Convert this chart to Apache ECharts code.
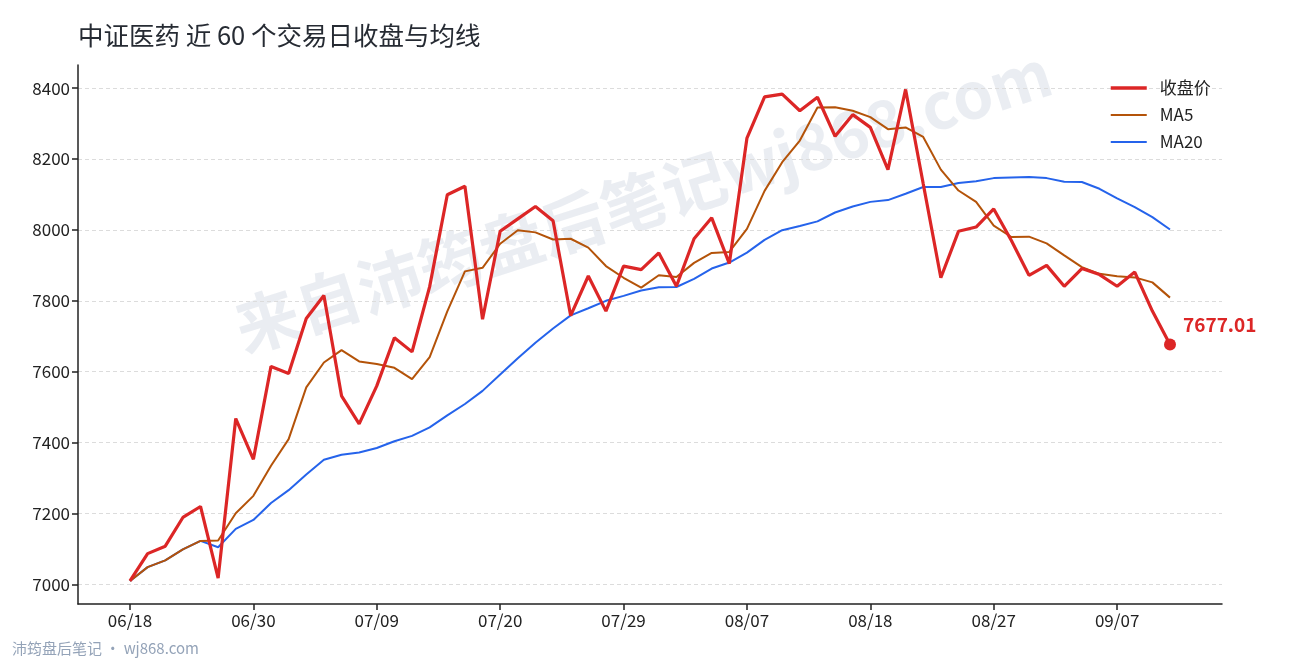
<!DOCTYPE html>
<html>
<head>
<meta charset="utf-8">
<title>中证医药 近 60 个交易日收盘与均线</title>
<script src="https://cdn.jsdelivr.net/npm/echarts@6/dist/echarts.min.js"></script>
<style>
    html, body { margin: 0; padding: 0; background: #fff; }
    #main { width: 1290px; height: 660px; }
</style>
</head>
<body>
<div id="main"></div>
<script>
// 交易日 (MM/DD)
var dates = [
    '06/18', '06/19', '06/20', '06/23', '06/24', '06/25', '06/26', '06/30',
    '07/01', '07/02', '07/03', '07/04', '07/07', '07/08', '07/09',
    '07/10', '07/11', '07/14', '07/15', '07/16', '07/17', '07/20',
    '07/21', '07/22', '07/23', '07/24', '07/25', '07/28', '07/29',
    '07/30', '07/31', '08/01', '08/04', '08/05', '08/06', '08/07',
    '08/08', '08/11', '08/12', '08/13', '08/14', '08/15', '08/18',
    '08/19', '08/20', '08/21', '08/22', '08/25', '08/26', '08/27',
    '08/28', '08/29', '09/01', '09/02', '09/03', '09/04', '09/07',
    '09/08', '09/09', '09/10'
];

// 收盘价
var closeData = [
    7010, 7087, 7108, 7189, 7220, 7018, 7468, 7353, 7615, 7595,
    7750, 7815, 7532, 7453, 7560, 7696, 7656, 7840, 8099, 8123,
    7748, 7996, 8031, 8066, 8026, 7758, 7870, 7771, 7898, 7888,
    7935, 7841, 7975, 8034, 7905, 8259, 8375, 8383, 8336, 8374,
    8264, 8325, 8289, 8170, 8396, 8130, 7865, 7996, 8008, 8059,
    7970, 7872, 7900, 7841, 7891, 7874, 7841, 7881, 7771, 7677.01
];

// MA5
var ma5Data = [
    7010, 7049, 7068, 7099, 7123, 7124, 7201, 7250, 7335, 7410,
    7556, 7626, 7661, 7629, 7622, 7611, 7579, 7641, 7770, 7883,
    7893, 7961, 7999, 7993, 7973, 7975, 7950, 7898, 7865, 7837,
    7872, 7867, 7907, 7935, 7938, 8003, 8110, 8191, 8252, 8345,
    8346, 8336, 8318, 8284, 8289, 8262, 8170, 8111, 8079, 8012,
    7980, 7981, 7962, 7928, 7895, 7876, 7869, 7866, 7852, 7809
];

// MA20
var ma20Data = [
    7010, 7049, 7068, 7099, 7123, 7105, 7157, 7182, 7230, 7266,
    7310, 7352, 7366, 7372, 7385, 7404, 7419, 7443, 7477, 7509,
    7546, 7592, 7638, 7682, 7722, 7759, 7779, 7800, 7814, 7829,
    7838, 7839, 7862, 7891, 7908, 7936, 7972, 7999, 8011, 8024,
    8049, 8066, 8079, 8084, 8102, 8121, 8121, 8132, 8137, 8146,
    8148, 8149, 8146, 8136, 8135, 8116, 8089, 8064, 8036, 8001
];

// 坐标轴刻度
var xTickIdx = [0, 7, 14, 21, 28, 35, 42, 49, 56];
var yTicks = [7000, 7200, 7400, 7600, 7800, 8000, 8200, 8400];

var FONT = '"Noto Sans CJK SC", "Noto Sans", sans-serif';

var toPairs = function (arr) {
    return arr.map(function (v, i) { return [i, v]; });
};

var lastIdx = closeData.length - 1;

var myChart = echarts.init(document.getElementById('main'), null, { renderer: 'canvas' });

var option = {
    backgroundColor: '#fff',
    animation: false,
    textStyle: { fontFamily: FONT },
    title: {
        text: '中证医药 近 60 个交易日收盘与均线',
        left: 78,
        top: 23,
        padding: 0,
        textStyle: { fontFamily: FONT, fontSize: 25.5, fontWeight: 'normal', color: '#262b33' }
    },
    legend: {
        orient: 'vertical',
        left: 1109,
        top: 79,
        padding: 0,
        itemWidth: 36,
        itemHeight: 14,
        itemGap: 9,
        itemStyle: { opacity: 0 },
        textStyle: { fontFamily: FONT, fontSize: 17, lineHeight: 18, color: '#222', padding: [0, 0, 0, 8] },
        data: [
            { name: '收盘价', lineStyle: { width: 3.5 } },
            { name: 'MA5', lineStyle: { width: 2 } },
            { name: 'MA20', lineStyle: { width: 2 } }
        ]
    },
    grid: { left: 78, right: 68, top: 65, bottom: 56 },
    xAxis: {
        type: 'value',
        min: -2.95,
        max: lastIdx + 2.95,
        axisLine: { show: true, onZero: false, lineStyle: { color: '#222', width: 1.5 } },
        axisTick: { show: true, inside: false, length: 6, lineStyle: { color: '#222', width: 1.5 }, customValues: xTickIdx },
        axisLabel: {
            customValues: xTickIdx,
            margin: 8,
            fontSize: 17,
            color: '#222',
            fontFamily: FONT,
            formatter: function (v) { return dates[Math.round(v)] || ''; }
        },
        splitLine: { show: false }
    },
    yAxis: {
        type: 'value',
        min: 6945,
        max: 8465,
        axisLine: { show: true, onZero: false, lineStyle: { color: '#222', width: 1.5 } },
        axisTick: { show: true, inside: false, length: 6, lineStyle: { color: '#222', width: 1.5 }, customValues: yTicks },
        axisLabel: {
            customValues: yTicks,
            margin: 8,
            fontSize: 17,
            color: '#222',
            fontFamily: FONT,
            formatter: function (v) { return String(v); }
        },
        splitLine: { show: true, lineStyle: { color: '#dcdcdc', type: [4, 3], width: 1 } }
    },
    graphic: [
        {
            type: 'text',
            x: 643,
            y: 200,
            rotation: 0.31,
            z: -10,
            silent: true,
            style: {
                text: '来自沛筠盘后笔记wj868.com',
                font: 'bold 64px ' + FONT,
                fill: 'rgba(190,198,215,0.32)',
                textAlign: 'center',
                textVerticalAlign: 'middle'
            }
        },
        {
            type: 'text',
            x: 12,
            y: 648,
            silent: true,
            style: {
                text: '沛筠盘后笔记 · wj868.com',
                font: '15px ' + FONT,
                fill: '#94a3b8',
                textVerticalAlign: 'middle'
            }
        }
    ],
    series: [
        {
            name: 'MA20',
            type: 'line',
            data: toPairs(ma20Data),
            symbol: 'none',
            z: 2,
            lineStyle: { color: '#2563eb', width: 2 },
            itemStyle: { color: '#2563eb' }
        },
        {
            name: 'MA5',
            type: 'line',
            data: toPairs(ma5Data),
            symbol: 'none',
            z: 3,
            lineStyle: { color: '#b45309', width: 2 },
            itemStyle: { color: '#b45309' }
        },
        {
            name: '收盘价',
            type: 'line',
            data: toPairs(closeData),
            symbol: 'none',
            z: 4,
            lineStyle: { color: '#dc2626', width: 3.2 },
            itemStyle: { color: '#dc2626' }
        },
        {
            name: 'last',
            type: 'scatter',
            data: [[lastIdx, closeData[lastIdx]]],
            symbolSize: 12,
            z: 5,
            itemStyle: { color: '#dc2626', opacity: 1 },
            label: {
                show: true,
                position: 'right',
                distance: 7,
                offset: [0, -20],
                formatter: function (p) { return p.value[1].toFixed(2); },
                color: '#dc2626',
                fontSize: 19,
                fontWeight: 'bold',
                fontFamily: FONT
            }
        }
    ]
};

myChart.setOption(option);
</script>
</body>
</html>
